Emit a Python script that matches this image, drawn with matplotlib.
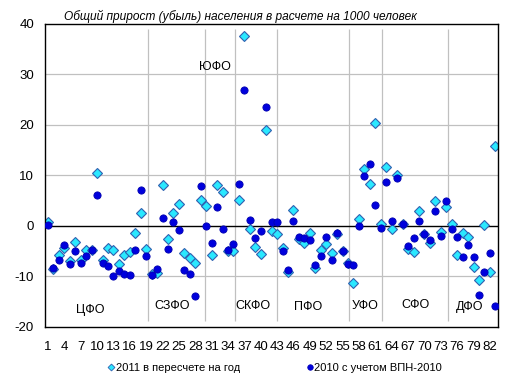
import matplotlib
matplotlib.use("Agg")
import matplotlib.pyplot as plt
from matplotlib.lines import Line2D
import numpy as np

plt.rcParams['font.family'] = ['Liberation Sans', 'DejaVu Sans']
plt.rcParams['axes.unicode_minus'] = False

# region numbers 1..83
regions = np.arange(1, 84)

# 2011 в пересчете на год (diamonds)
v2011 = [0.7, -8.6, -5.8, -4.3, -7.0, -3.1, -6.7, -4.8, -4.8, 10.4,
         -6.7, -4.4, -4.8, -7.5, -5.8, -5.1, -1.4, 2.5, -4.6, -9.5,
         -9.3, 8.1, -2.5, 2.5, 4.4, -5.4, -6.4, -7.4, 5.1, 4.0,
         -5.7, 8.2, 6.8, -5.0, -5.0, 5.1, 37.6, -0.5, -4.1, -5.5,
         19.0, -1.0, -1.6, -4.4, -9.2, 3.2, -2.5, -3.3, -1.3, -8.4,
         -4.8, -3.6, -5.4, -1.6, -4.9, -7.4, -11.2, 1.4, 11.3, 8.4,
         20.3, 0.3, 11.6, -0.5, 10.1, 0.3, -4.6, -5.2, 2.9, -1.6,
         -3.3, 5.0, -1.1, 3.8, 0.4, -5.7, -1.4, -2.1, -8.2, -10.6,
         0.1, -9.2, 15.9]

# 2010 с учетом ВПН-2010 (circles)
v2010 = [0.2, -8.3, -6.8, -3.8, -7.5, -5.0, -7.4, -5.9, -4.7, 6.2,
         -7.4, -7.9, -10.0, -8.9, -9.6, -9.7, -4.8, 7.1, -5.9, -9.8,
         -8.6, 1.5, -4.6, 0.7, -0.8, -8.7, -9.5, -13.9, 7.9, -0.1,
         -3.4, 3.7, -0.5, -4.8, -3.6, 8.4, 26.9, 1.2, -2.3, -0.9,
         23.6, 0.7, 0.7, -4.9, -8.8, 0.9, -2.1, -2.3, -2.8, -7.7,
         -5.9, -2.1, -6.7, -1.3, -4.9, -7.5, -7.8, -0.1, 9.8, 12.3,
         4.1, -0.3, 8.8, 0.9, 9.5, 0.3, -4.0, -2.4, 0.9, -1.6,
         -2.8, 2.9, -2.0, 5.0, -0.6, -2.1, -6.1, -3.8, -6.1, -13.7,
         -9.2, -5.4, -15.8]

# federal districts: label, label x, label y
districts = ['ЦФО', 'СЗФО', 'ЮФО', 'СКФО', 'ПФО', 'УФО', 'СФО', 'ДФО']
label_x = [8.7, 23.7, 31.6, 38.6, 48.7, 59.1, 68.3, 78.3]
label_y = [-16.6, -15.8, 31.5, -15.8, -16.0, -15.8, -15.6, -16.0]
# separators between districts
bounds = [19.3, 29.8, 35.3, 42.9, 56.1, 62.3, 74.3]

xticks = list(range(1, 84, 3))

fig = plt.figure(figsize=(5.14, 3.91), dpi=100)
ax = fig.add_axes([0.088, 0.1637, 0.881, 0.775])

for y in [-10, 10, 20, 30]:
    ax.axhline(y, color='#c0c0c0', lw=0.9, zorder=0)
ax.vlines(bounds, -18.8, 39, color='#c0c0c0', lw=0.9, zorder=0)
ax.axhline(0, color='black', lw=1.0, zorder=1)

ax.plot(regions, v2011, linestyle='none', marker='D', ms=5.5,
        mfc='#2ae8ff', mec='#3060b0', mew=0.8, zorder=2)
ax.plot(regions, v2010, linestyle='none', marker='o', ms=5.2,
        mfc='#0000dd', mec='#0000b0', mew=0.6, zorder=3)

for name, x, y in zip(districts, label_x, label_y):
    ax.text(x, y, name, ha='center', va='center', fontsize=9)

ax.set_xlim(0.5, 83.5)
ax.set_ylim(-20, 40)
ax.set_yticks(range(-20, 41, 10))
ax.set_xticks(xticks)
ax.set_xticklabels([str(t) for t in xticks])
ax.tick_params(axis='both', length=0, labelsize=9.5)
ax.tick_params(axis='y', pad=8)
ax.tick_params(axis='x', pad=10)
for s in ax.spines.values():
    s.set_color('black')
    s.set_linewidth(1.0)

fig.text(0.467, 0.959, 'Общий прирост (убыль) населения в расчете на 1000 человек',
         ha='center', va='center', fontsize=8.6, style='italic')

handles = [
    Line2D([], [], linestyle='none', marker='D', ms=3.5, mfc='#2ae8ff', mec='#3060b0', mew=0.6),
    Line2D([], [], linestyle='none', marker='o', ms=4, mfc='#0000dd', mec='#0000b0', mew=0.5),
]
fig.legend(handles, ['2011 в пересчете на год', '2010 с учетом ВПН-2010'],
           loc='center', bbox_to_anchor=(0.535, 0.058), ncol=2, frameon=False,
           fontsize=8, handlelength=0.6, handletextpad=0.1, columnspacing=6)

fig.savefig('out.png', dpi=100)
